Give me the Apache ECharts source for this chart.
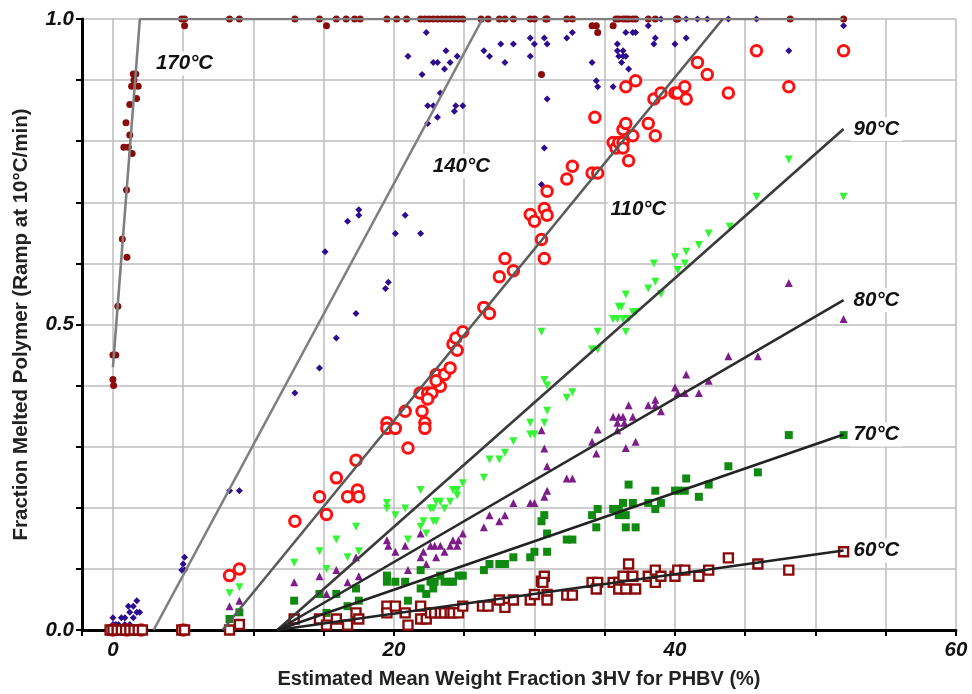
<!DOCTYPE html>
<html>
<head>
<meta charset="utf-8">
<script src="https://cdn.jsdelivr.net/npm/echarts@6/dist/echarts.min.js"></script>
<style>html,body{margin:0;padding:0;background:#fff;}#c{width:972px;height:694px;}</style>
</head>
<body>
<div id="c"></div>
<script>
// ---- data: [x = 3HV weight fraction %, y = fraction melted] ----
const pts170 = [[0,0.45],[0.2,0.45],[0,0.41],[0.05,0.40],[0.35,0.53],[0.67,0.64],[1.0,0.61],[0.97,0.72],[0.78,0.79],[1.1,0.79],[1.37,0.78],[1.2,0.81],[0.93,0.83],[1.2,0.86],[1.33,0.89],[1.8,0.89],[1.68,0.87],[1.5,0.90],[1.45,0.91],[1.63,0.91],
 [4.9,1],[5.1,1],[5.1,0.989],[8.3,1],[9.0,1],[12.95,1],[14.7,1],[15.2,0.989],[15.9,1],[16.6,1],[17.2,1],[17.6,1],[19.5,1],[20.2,1],[20.9,1],[21.9,1],[22.2,1],[22.5,1],[22.8,1],[23.1,1],[23.4,1],[23.7,1],[24.0,1],[24.3,1],[24.6,1],[24.9,1],[26.2,1],[26.7,1],[27.5,1],[27.9,1],[28.5,1],[29.7,1],[30.0,1],[30.8,1],[30.9,1],[30.5,0.909],[32.3,1],[32.7,1],[34.1,0.989],[34.4,0.989],[34.5,0.978],[35.6,0.989],[35.8,1],[36.0,1],[36.3,1],[36.5,1],[36.7,1],[37.0,1],[37.2,1],[38.1,1],[38.6,1],[40.1,1],[40.2,1],[48.2,1],[52.0,1]];
const pts140 = [[0,0.02],[0,0.009],[0.2,0.009],[0.4,0.009],[0.6,0.02],[0.85,0.009],[0.85,0.02],[1.2,0.009],[1.2,0.029],[1.45,0.02],[1.1,0.039],[1.45,0.039],[1.7,0.048],[1.7,0.029],[1.9,0.029],
 [4.9,0.098],[5.0,0.108],[5.1,0.119],[5.1,0.098],[8.3,0.228],[9.0,0.228],[12.95,0.388],
 [14.7,0.429],[15.9,0.478],[17.3,0.518],[19.4,0.559],[19.6,0.569],[15.1,0.619],[16.7,0.669],[17.5,0.679],[17.5,0.688],[20.1,0.649],[21.9,0.649],[20.8,0.679],
 [22.3,0.978],[21.0,0.939],[22.0,0.909],[22.8,0.929],[23.1,0.929],[23.6,0.918],[23.7,0.948],[24.0,0.929],[24.5,0.939],[23.3,0.879],[22.4,0.858],[22.8,0.858],[23.1,0.839],[22.4,0.829],[24.3,0.849],[24.4,0.858],[24.9,0.858],
 [26.4,0.948],[26.8,0.939],[27.6,0.959],[27.9,0.929],[28.5,0.959],[29.7,0.969],[30.0,0.959],[30.7,0.969],[30.9,0.959],[29.7,0.939],[30.9,0.869],[30.7,0.789],[30.5,0.729],
 [32.3,0.969],[32.7,0.978],[34.1,0.929],[34.4,0.899],[34.5,0.889],[35.6,0.889],[36.5,0.978],[37.0,0.978],[37.2,0.978],[35.9,0.959],[35.9,0.948],[36.3,0.948],[36.0,0.939],[36.3,0.939],[36.5,0.939],[36.2,0.929],[36.7,0.918],
 [38.1,0.989],[38.6,0.969],[38.5,0.959],[40.0,0.959],[40.8,0.969],[45.8,1.0],[48.1,0.948],[52.0,0.989],
 [38.1,1],[39.0,1],[40.1,1],[40.8,1],[41.6,1],[42.3,1],[43.8,1]];
const pts110 = [[0,0],[1,0],[2,0],[5,0],[8.3,0.089],[9.0,0.100],[12.95,0.178],[14.7,0.218],[15.2,0.189],[15.9,0.249],[16.7,0.218],[17.3,0.278],[17.4,0.229],[17.5,0.218],
 [19.5,0.339],[19.5,0.330],[20.1,0.330],[21.0,0.298],[22.2,0.339],[22.2,0.330],[20.8,0.358],[22.0,0.358],[21.85,0.388],[22.4,0.388],[22.7,0.388],[22.4,0.378],[23.3,0.399],[23.0,0.418],[23.0,0.408],[23.6,0.418],[24.0,0.429],[24.2,0.468],[24.4,0.478],[24.5,0.458],[24.9,0.488],
 [26.4,0.528],[26.8,0.518],[27.5,0.578],[27.9,0.608],[28.5,0.588],[30.5,0.639],[30.7,0.608],[29.7,0.680],[30.0,0.669],[30.7,0.690],[30.9,0.679],[30.9,0.718],
 [32.3,0.738],[32.7,0.759],[34.1,0.748],[34.5,0.748],[34.3,0.839],[35.6,0.798],[35.8,0.789],[36.0,0.798],[36.3,0.798],[36.3,0.789],[36.7,0.768],[36.3,0.819],[36.5,0.829],[37.0,0.809],[36.5,0.889],[37.2,0.899],
 [38.1,0.829],[38.6,0.809],[38.5,0.869],[39.0,0.879],[40.0,0.879],[40.2,0.879],[40.7,0.889],[40.8,0.869],[41.6,0.929],[42.3,0.909],[43.8,0.879],[45.8,0.948],[48.1,0.889],[52.0,0.948]];
const pts90 = [[0,0],[1,0],[2,0],[5,0],[8.3,0.060],[9.0,0.070],[12.9,0.110],[14.7,0.129],[15.2,0.100],[15.9,0.148],[16.7,0.119],[17.3,0.169],[17.5,0.129],
 [19.5,0.208],[19.5,0.199],[20.1,0.188],[20.8,0.199],[21.0,0.148],[21.9,0.229],[21.9,0.169],[22.3,0.158],[22.1,0.178],[22.6,0.199],[22.8,0.199],[23.0,0.210],[23.3,0.210],[23.6,0.199],[22.8,0.178],[23.0,0.178],[24.0,0.210],[24.2,0.229],[24.5,0.220],[24.5,0.229],[24.9,0.240],
 [26.4,0.249],[26.8,0.279],[27.5,0.279],[27.9,0.290],[28.5,0.309],[29.7,0.320],[30.0,0.320],[29.7,0.339],[30.7,0.339],[30.5,0.488],[30.7,0.409],[30.9,0.400],[30.9,0.359],
 [32.3,0.380],[32.7,0.389],[34.1,0.459],[34.5,0.459],[34.5,0.488],[35.6,0.509],[35.9,0.509],[36.3,0.509],[36.5,0.488],[36.7,0.509],[36.0,0.529],[36.2,0.529],[36.5,0.549],[37.0,0.520],[37.2,0.520],
 [38.1,0.559],[38.6,0.570],[38.5,0.600],[39.0,0.550],[40.0,0.610],[40.2,0.589],[40.7,0.600],[40.8,0.619],[41.7,0.630],[42.4,0.649],[43.9,0.660],[45.8,0.709],[48.1,0.770],[52.0,0.709]];
const pts80 = [[0,0],[1,0],[2,0],[5,0],[8.3,0.039],[9.0,0.048],[12.9,0.078],[14.7,0.088],[15.2,0.059],[15.9,0.098],[16.7,0.078],[17.3,0.119],[17.5,0.088],
 [19.5,0.147],[19.6,0.138],[20.1,0.128],[20.8,0.138],[21.0,0.098],[21.9,0.158],[21.9,0.119],[22.3,0.108],[22.1,0.128],[22.6,0.138],[22.9,0.138],[23.3,0.138],[23.0,0.119],[23.6,0.128],[24.0,0.138],[24.2,0.147],[24.6,0.147],[24.5,0.138],[24.9,0.158],
 [26.4,0.168],[26.8,0.188],[27.5,0.178],[27.9,0.188],[28.5,0.208],[29.7,0.208],[30.0,0.208],[30.5,0.327],[30.7,0.297],[30.9,0.268],[30.9,0.228],[30.7,0.218],
 [32.3,0.248],[32.7,0.248],[34.1,0.308],[34.5,0.328],[34.4,0.289],[35.6,0.349],[36.0,0.349],[36.3,0.349],[35.9,0.339],[36.4,0.339],[36.7,0.368],[37.0,0.349],[36.5,0.298],[37.2,0.308],[35.9,0.327],
 [38.1,0.368],[38.6,0.377],[38.6,0.368],[39.0,0.358],[40.0,0.397],[40.2,0.388],[40.7,0.388],[40.8,0.418],[41.7,0.388],[42.4,0.408],[43.8,0.448],[45.9,0.448],[48.1,0.568],[52.0,0.509]];
const pts70 = [[0,0],[1,0],[2,0],[5,0],[8.3,0.018],[9.0,0.029],[12.9,0.048],[14.7,0.059],[15.2,0.028],[15.9,0.059],[16.7,0.039],[17.3,0.068],[17.5,0.048],
 [19.5,0.089],[19.5,0.079],[20.1,0.079],[20.8,0.079],[21.0,0.048],[21.9,0.098],[21.9,0.068],[22.3,0.059],[22.6,0.079],[22.9,0.079],[23.3,0.089],[23.6,0.079],[24.0,0.079],[24.2,0.079],[24.6,0.089],[24.9,0.089],[22.8,0.068],
 [26.4,0.098],[26.8,0.108],[27.5,0.108],[27.9,0.108],[28.5,0.119],[29.7,0.119],[30.0,0.128],[30.5,0.178],[30.7,0.188],[30.9,0.158],[30.9,0.128],
 [32.3,0.148],[32.7,0.148],[34.1,0.188],[34.5,0.198],[34.4,0.168],[35.6,0.198],[36.0,0.198],[36.3,0.208],[36.0,0.188],[36.5,0.188],[36.7,0.238],[37.0,0.208],[36.5,0.168],[37.2,0.168],
 [38.1,0.208],[38.6,0.198],[38.6,0.228],[39.0,0.208],[40.0,0.228],[40.2,0.228],[40.7,0.228],[40.8,0.248],[41.7,0.218],[42.4,0.238],[43.8,0.268],[45.9,0.258],[48.1,0.319],[52.0,0.319]];
const pts60 = [[-0.2,0],[0,0],[0.3,0],[0.6,0],[0.9,0],[1.2,0],[1.5,0],[1.8,0],[2.1,0],[4.9,0],[5.1,0],[8.3,0],
 [9.0,0.009],[12.9,0.018],[14.7,0.018],[15.2,0.008],[15.9,0.018],[16.7,0.008],[17.3,0.028],[17.5,0.018],
 [19.5,0.039],[19.5,0.028],[20.1,0.039],[20.8,0.028],[21.0,0.008],[21.9,0.039],[21.9,0.018],[22.3,0.018],
 [22.6,0.028],[22.9,0.028],[23.3,0.028],[23.6,0.028],[24.0,0.028],[24.2,0.028],[24.6,0.028],[24.9,0.039],
 [26.3,0.039],[26.7,0.039],[27.9,0.037],[27.5,0.049],[28.5,0.049],[29.7,0.049],[30.0,0.058],[30.5,0.080],[30.7,0.088],[30.9,0.058],[30.9,0.049],[30.6,0.078],
 [32.3,0.057],[32.7,0.057],[34.1,0.078],[34.5,0.078],[34.4,0.067],[35.6,0.078],[36.0,0.078],[36.0,0.067],[36.5,0.067],[36.3,0.088],[36.7,0.108],[37.0,0.088],[37.2,0.067],
 [38.1,0.088],[38.6,0.098],[38.6,0.078],[39.0,0.088],[40.0,0.088],[40.2,0.098],[40.7,0.098],[41.7,0.088],[42.4,0.098],[43.8,0.118],[45.9,0.108],[48.1,0.098],[52.0,0.128]];

// fitted trend lines (endpoints)
const fit170 = [[0,0.43],[1.92,1],[52,1]];
const fit140 = [[2.9,0],[26.3,1]];
const fit110 = [[7.8,0],[43.4,1]];
const fit90 = [[11.7,0],[52,0.82]];
const fit80 = [[11.7,0],[52,0.54]];
const fit70 = [[11.7,0],[52,0.32]];
const fit60 = [[11.7,0],[52,0.13]];

const xTickLabels = [0,20,40,60];
const yTickLabels = [0,0.5,1];
const tempLabels = [['170°C',5.1,0.927],['140°C',24.8,0.759],['110°C',37.4,0.688]];

const FONT = 'Liberation Sans, Arial, sans-serif';
const labelFont = {fontFamily:FONT, fontWeight:'bold', fontStyle:'italic', fontSize:20.5, color:'#111'};

function sc(name, data, symbol, size, style, extra){
  return Object.assign({name, type:'scatter', data, symbol, symbolSize:size,
    itemStyle:Object.assign({opacity:1}, style), z:3, silent:true}, extra||{});
}
function fit(data, color, txt){
  const s = {type:'line', data, symbol:'none', z:5, silent:true, lineStyle:{color, width:2.6}};
  if (txt) s.endLabel = Object.assign({show:true, formatter:txt, distance:7, backgroundColor:'#fff', padding:[2,3]}, labelFont);
  return s;
}

const chart = echarts.init(document.getElementById('c'), null, {renderer:'canvas'});
chart.setOption({
  animation:false,
  backgroundColor:'#fff',
  grid:{left:82, right:16, top:19, bottom:62, containLabel:false},
  xAxis:{type:'value', min:-2.2, max:60, minInterval:5, maxInterval:5, splitNumber:12,
    name:'Estimated Mean Weight Fraction 3HV for PHBV (%)', nameLocation:'middle', nameGap:39,
    nameTextStyle:{fontFamily:FONT, fontWeight:'bold', fontSize:20, color:'#222'},
    axisLine:{show:true, onZero:false, lineStyle:{color:'#000', width:3}},
    axisTick:{show:true, length:6, lineStyle:{color:'#000', width:2}},
    axisLabel:Object.assign({margin:10, formatter:v => xTickLabels.includes(Math.round(v*100)/100) ? String(v) : ''}, labelFont, {fontSize:20.5}),
    splitLine:{show:true, lineStyle:{color:'#bcbcbc', width:1.5}}},
  yAxis:{type:'value', min:0, max:1, interval:0.1,
    name:'Fraction Melted Polymer (Ramp at 10°C/min)', nameLocation:'middle', nameGap:50,
    nameTextStyle:{fontFamily:FONT, fontWeight:'bold', fontSize:20.5, color:'#222'},
    axisLine:{show:true, onZero:false, lineStyle:{color:'#000', width:3}},
    axisTick:{show:true, length:6, lineStyle:{color:'#000', width:2}},
    axisLabel:Object.assign({margin:8, formatter:v => yTickLabels.some(t => Math.abs(t-v)<1e-6) ? v.toFixed(1) : ''}, labelFont, {fontSize:20.5}),
    splitLine:{show:true, lineStyle:{color:'#bcbcbc', width:1.5}}},
  series:[
    sc('140°C', pts140, 'diamond', 7, {color:'#2e0c8e'}),
    sc('170°C', pts170, 'circle', 7, {color:'#8b0a0a'}),
    sc('90°C', pts90, 'triangle', 8, {color:'#33f533'}, {symbolRotate:180}),
    sc('80°C', pts80, 'triangle', 8, {color:'#7d1d8a'}),
    sc('70°C', pts70, 'rect', 8, {color:'#118a11'}),
    sc('110°C', pts110, 'circle', 10.5, {color:'#fff', borderColor:'#ff1010', borderWidth:3}),
    sc('60°C', pts60, 'rect', 9, {color:'#fff', borderColor:'#8b0a0a', borderWidth:2.4}),
    fit(fit170, '#7f7f7f'),
    fit(fit140, '#7f7f7f'),
    fit(fit110, '#5a5a5a'),
    fit(fit90, '#3a3a3a', '90°C'),
    fit(fit80, '#2a2a2a', '80°C'),
    fit(fit70, '#222', '70°C'),
    fit(fit60, '#222', '60°C'),
    {type:'scatter', symbolSize:0, z:6, silent:true, itemStyle:{opacity:1},
     data: tempLabels.map(t => ({value:[t[1], t[2]], name:t[0]})),
     label:Object.assign({show:true, position:'inside', formatter:p => p.name, backgroundColor:'#fff', padding:[2,3]}, labelFont)}
  ]
});
</script>
</body>
</html>
